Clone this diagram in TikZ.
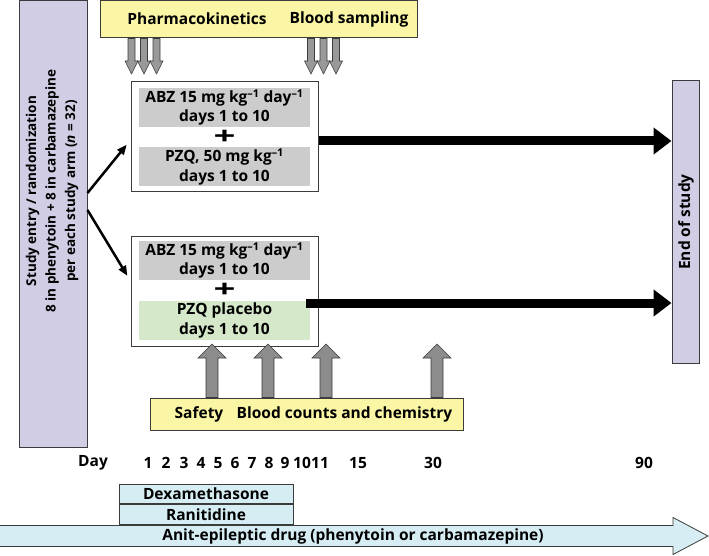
\documentclass[tikz,border=0pt]{standalone}
\usepackage{fontspec}
\setmainfont{Open Sans}
\usetikzlibrary{calc,arrows.meta}
\definecolor{entrylav}{RGB}{209,205,228}
\definecolor{notepale}{RGB}{250,246,165}
\definecolor{druggray}{RGB}{204,204,204}
\definecolor{placgreen}{RGB}{214,232,202}
\definecolor{medblue}{RGB}{214,238,243}
\definecolor{edgegray}{RGB}{60,60,60}
\def\blockarrow[#1](#2)(#3)(#4:#5:#6){\coordinate (ba) at ($(#3)!#6!(#2)$);
	\draw[#1] ($(#2)!#4!90:(#3)$) -- ($(ba)!#4!90:(#3)$) -- ($(ba)!#5!90:(#3)$) -- (#3) -- ($(ba)!#5!-90:(#3)$) -- ($(ba)!#4!-90:(#3)$) -- ($(#2)!#4!-90:(#3)$) -- cycle;}
\tikzset{
	lavbox/.style={draw=edgegray, fill=entrylav, line width=1pt, inner sep=0pt},
	notebox/.style={draw=edgegray, fill=notepale, line width=1pt, inner sep=0pt},
	armbox/.style={draw=edgegray, fill=white, line width=1pt, inner sep=0pt, minimum width=187pt, minimum height=110pt},
	drugbox/.style={fill=druggray, inner sep=0pt, minimum width=171pt, minimum height=39pt, align=center},
	medbox/.style={draw=edgegray, fill=medblue, line width=0.8pt, inner sep=0pt, minimum width=174pt, minimum height=19.5pt},
	downarr/.style={draw=edgegray, fill=black!40, line width=0.6pt},
	uparr/.style={draw=edgegray, fill=black!45, line width=0.6pt},
	diag/.style={line width=2.5pt, -{Triangle[length=10pt,width=8pt]}, shorten >=6pt},
	bigarr/.style={line width=9pt, -{Triangle[length=18pt,width=26pt]}},
	lbl/.style={inner sep=0pt}
}

\begin{document}
\begin{tikzpicture}[x=1pt, y=-1pt, font=\fontsize{15.5}{19.5}\selectfont\bfseries]
			%%%%% START %%%%%
			\useasboundingbox (0,0) rectangle (709,556);
			
			\node[lavbox, minimum width=68pt, minimum height=446pt] (entry) at (53,224) {};
			\node[lbl, rotate=90, align=center, font=\fontsize{13.5}{19.5}\selectfont\bfseries] (entrytxt) at (52,191) {Study entry / randomization\\8 in phenytoin + 8 in carbamazepine\\per each study arm (\textit{n} = 32)};
			
			\node[lavbox, minimum width=27pt, minimum height=282pt] (endst) at (685.5,222) {};
			\node[lbl, rotate=90] (endtxt) at (686,222) {End of study};
			
			\node[notebox, minimum width=317pt, minimum height=37pt] (pkbox) at (258.5,19.5) {};
			\node[lbl] (pk) at (197,19) {Pharmacokinetics};
			\node[lbl] (bs) at (349,19) {Blood sampling};
			
			\node[armbox] (armA) at (224.5,137) {};
			\node[drugbox] (abzA) at (224.5,107.5) {ABZ 15 mg kg\textsuperscript{–1} day\textsuperscript{–1}\\days 1 to 10};
			\node[lbl, font=\fontsize{24}{24}\selectfont\bfseries] (plusA) at (224.5,137) {\scalebox{1.6}[1]{+}};
			\node[drugbox] (pzqA) at (224.5,167) {PZQ, 50 mg kg\textsuperscript{–1}\\days 1 to 10};
			
			\node[armbox] (armB) at (224.5,291) {};
			\node[drugbox] (abzB) at (224.5,260.5) {ABZ 15 mg kg\textsuperscript{–1} day\textsuperscript{–1}\\days 1 to 10};
			\node[lbl, font=\fontsize{24}{24}\selectfont\bfseries] (plusB) at (224.5,290) {\scalebox{1.6}[1]{+}};
			\node[drugbox, fill=placgreen] (pzqB) at (224.5,320.5) {PZQ placebo\\days 1 to 10};
			
			\node[notebox, minimum width=313pt, minimum height=32pt] (safebox) at (306.5,414) {};
			\node[lbl] (safe) at (199,414) {Safety};
			\node[lbl] (counts) at (344.5,414) {Blood counts and chemistry};
			
			% sampling arrows
			\foreach \x in {131.5,144,156.5,311,323.5,336}{
				\coordinate (tip) at (\x,74);
				\blockarrow[downarr](tip |- pkbox.south)(tip)(3.5pt:6.5pt:13pt);
			}
			\foreach \x in {212,268,326,437}{
				\coordinate (tip) at (\x,344);
				\blockarrow[uparr](tip |- safebox.north)(tip)(6pt:14pt:14pt);
			}
			
			% randomization
			\draw[diag] ([yshift=31pt]entry.east) -- ([yshift=-3pt]armA.west);
			\draw[diag] ([yshift=14pt]entry.east) -- ([yshift=10pt]armB.west);
			
			\draw[bigarr] ([yshift=-4pt]armA.east) -- ([yshift=-4pt]armA.east -| endst.west);
			\coordinate (lowst) at (306,303);
			\draw[bigarr] (lowst) -- (lowst -| endst.west);
			
			% time line
			\node[lbl] (day) at (93,463) {Day};
			\foreach \d/\x in {1/148,2/166,3/184,4/201,5/218,6/235,7/252,8/269,9/285,10/302,11/320,15/358,30/433,90/644}
				\node[lbl] (d\d) at (\x,463) {\d};
			
			\node[medbox] (dexa) at (206,494) {Dexamethasone};
			\node[medbox, anchor=north] (rani) at (dexa.south) {Ranitidine};
			
			\blockarrow[draw=edgegray, fill=medblue, line width=0.8pt](-2,536)(708,536)(10.5pt:18.5pt:35pt);
			\node[lbl] (aed) at (353,536) {Anit-epileptic drug (phenytoin or carbamazepine)};
			
			%%%%% END %%%%%
\end{tikzpicture}
\end{document}
